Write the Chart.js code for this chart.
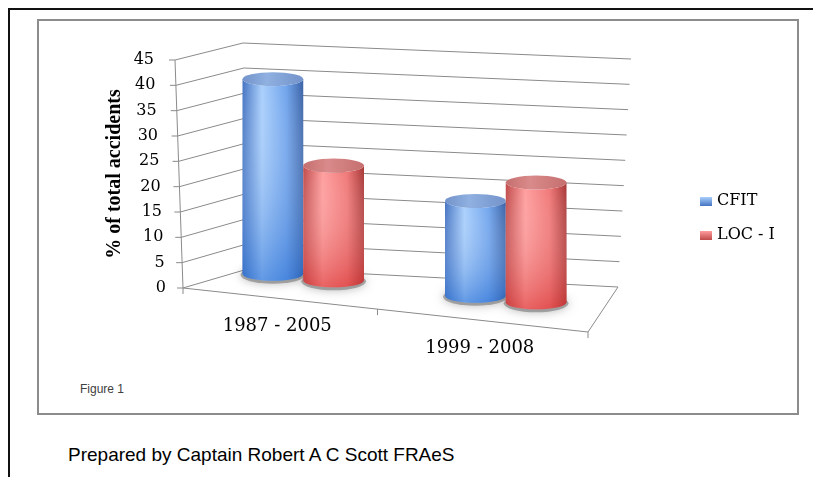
<!DOCTYPE html>
<html>
<head>
<meta charset="utf-8">
<script src="https://cdn.jsdelivr.net/npm/chart.js@4"></script>
<style>
  body { margin: 0; background: #fff; width: 813px; height: 477px; overflow: hidden; position: relative; }
  .outer-top { position: absolute; left: 8px; top: 8px; width: 805px; height: 2px; background: #111; }
  .outer-left { position: absolute; left: 8px; top: 8px; width: 2px; height: 469px; background: #111; }
  .frame { position: absolute; left: 37px; top: 19px; width: 758px; height: 392px; border: 2px solid #8c8c8c; }
  .fig { position: absolute; left: 80px; top: 383px; font: 12px/12px "Liberation Sans", Arial, sans-serif; color: #404040; }
  .credit { position: absolute; left: 68px; top: 445px; font: 19px/19px "Liberation Sans", Arial, sans-serif; color: #000; }
  #chart { position: absolute; left: 0; top: 0; }
</style>
</head>
<body>
<div class="outer-top"></div>
<div class="outer-left"></div>
<div class="frame"></div>
<div class="fig">Figure 1</div>
<div class="credit">Prepared by Captain Robert A C Scott FRAeS</div>
<canvas id="chart" width="813" height="477"></canvas>
<script>
const periods = ['1987 - 2005', '1999 - 2008'];
const cfit = [39, 19];
const locI = [23, 24];
const yTicks = [0, 45, 5]; // min, max, step
const yTitle = '% of total accidents';

const palettes = [
  { edgeL: '#4473c2', light: '#a9cffc', mid: '#6fa3ec', edgeR: '#3a62a6', bottom: 'rgba(40,110,210,0.55)', cap: '#7393cb', capLight: '#8fb0e0' },
  { edgeL: '#c04a4a', light: '#ff9d9d', mid: '#f07676', edgeR: '#a83636', bottom: 'rgba(215,50,50,0.55)', cap: '#c66f6f', capLight: '#d98a8a' }
];

const gridColor = '#8a8a8a';
const serif = '"DejaVu Serif", serif';

function box3d(chart) {
  const ctx = chart.ctx;
  const ca = chart.chartArea;
  const ys = chart.scales.y;
  const xs = chart.scales.x;
  const h = ca.bottom - ca.top;
  const frac = v => (ca.bottom - ys.getPixelForValue(v)) / h;
  const front = v => ({ x: ca.left - 8 * frac(v), y: ys.getPixelForValue(v) });
  const backL = v => ({ x: ca.left + 68 - 8 * frac(v), y: ca.bottom - 20 - 225 * frac(v) });
  const backR = v => ({ x: ca.right + 30 + 13 * frac(v), y: ys.getPixelForValue(v) - 1 });
  const floorY = x => ca.bottom + 44 * (x - ca.left) / (ca.right - ca.left);
  return { ctx, ca, ys, xs, frac, front, backL, backR, floorY };
}

const cylinderPlugin = {
  id: 'cylinders',
  beforeDatasetsDraw(chart) {
    const g = box3d(chart);
    const { ctx, ca, ys, xs, front, backL, backR, floorY } = g;
    ctx.save();
    ctx.strokeStyle = gridColor;
    ctx.lineWidth = 1;

    // walls
    ys.ticks.forEach(t => {
      const f = front(t.value), bl = backL(t.value), br = backR(t.value);
      ctx.beginPath();
      ctx.moveTo(f.x, f.y);
      ctx.lineTo(bl.x, bl.y);
      ctx.lineTo(br.x, br.y);
      ctx.stroke();
      // tick mark
      ctx.beginPath();
      ctx.moveTo(f.x, f.y);
      ctx.lineTo(f.x - 6, f.y);
      ctx.stroke();
    });

    // front axis
    const f0 = front(ys.min), f1 = front(ys.max);
    ctx.beginPath();
    ctx.moveTo(f1.x, f1.y);
    ctx.lineTo(f0.x, f0.y);
    ctx.stroke();

    // floor front and right edges
    const br0 = backR(ys.min);
    ctx.beginPath();
    ctx.moveTo(ca.left, ca.bottom);
    ctx.lineTo(ca.right, floorY(ca.right));
    ctx.lineTo(br0.x, br0.y);
    ctx.stroke();

    // category ticks
    const mid = (xs.getPixelForValue(0) + xs.getPixelForValue(1)) / 2 - 8;
    [ca.left, mid, ca.right].forEach(x => {
      ctx.beginPath();
      ctx.moveTo(x, floorY(x));
      ctx.lineTo(x, floorY(x) + 6);
      ctx.stroke();
    });

    // y tick labels
    ctx.fillStyle = '#000';
    ctx.font = '16px ' + serif;
    ctx.textAlign = 'right';
    ctx.textBaseline = 'middle';
    ys.ticks.forEach(t => {
      const f = front(t.value);
      ctx.fillText(String(t.value), f.x - 17 - 4 * g.frac(t.value), f.y);
    });

    // y title
    ctx.save();
    ctx.translate(115, (ca.top + ca.bottom) / 2);
    ctx.rotate(-Math.PI / 2);
    ctx.textAlign = 'center';
    ctx.font = 'bold 20px "Liberation Serif", serif';
    ctx.fillText(yTitle, 0, 0);
    ctx.restore();

    // category labels
    ctx.font = '18px ' + serif;
    ctx.textAlign = 'center';
    chart.data.labels.forEach((lab, i) => {
      const x = xs.getPixelForValue(i) - 7;
      ctx.fillText(lab, x, floorY(x) + 28);
    });

    // cylinders
    const metas = chart.data.datasets.map((d, i) => chart.getDatasetMeta(i));
    chart.data.labels.forEach((lab, i) => {
      metas.forEach((meta, di) => {
        const el = meta.data[i];
        const p = el.getProps(['x', 'y', 'base', 'width'], true);
        const cx = p.x + 19;
        const hw = p.width / 2;
        const base = floorY(cx) - 24;
        const top = base - (p.base - p.y) * 0.985;
        drawCylinder(ctx, cx, hw, base, top, 7, palettes[di]);
      });
    });

    // legend
    chart.data.datasets.forEach((d, di) => {
      const y = 201 + di * 34;
      const pal = palettes[di];
      const lg = ctx.createLinearGradient(0, y - 4, 0, y + 5);
      lg.addColorStop(0, pal.light);
      lg.addColorStop(1, pal.edgeL);
      ctx.fillStyle = lg;
      ctx.fillRect(700, y - 4, 12, 9);
      ctx.fillStyle = '#000';
      ctx.font = '16px ' + serif;
      ctx.textAlign = 'left';
      ctx.fillText(d.label, 717, y);
    });

    ctx.restore();
    return false;
  }
};

function drawCylinder(ctx, cx, hw, base, top, ry, pal) {
  // shadow under the base
  ctx.save();
  ctx.shadowColor = 'rgba(0,0,0,0.45)';
  ctx.shadowBlur = 10;
  ctx.fillStyle = 'rgba(120,120,120,0.6)';
  ctx.beginPath();
  ctx.ellipse(cx, base + 1, hw + 2, ry + 2, 0, 0, Math.PI * 2);
  ctx.fill();
  ctx.restore();

  // body
  const body = () => {
    ctx.beginPath();
    ctx.moveTo(cx - hw, top);
    ctx.lineTo(cx - hw, base);
    ctx.ellipse(cx, base, hw, ry, 0, Math.PI, 0, true);
    ctx.lineTo(cx + hw, top);
    ctx.ellipse(cx, top, hw, ry, 0, 0, Math.PI, false);
    ctx.closePath();
  };
  const hg = ctx.createLinearGradient(cx - hw, 0, cx + hw, 0);
  hg.addColorStop(0, pal.edgeL);
  hg.addColorStop(0.32, pal.light);
  hg.addColorStop(0.72, pal.mid);
  hg.addColorStop(1, pal.edgeR);
  body();
  ctx.fillStyle = hg;
  ctx.fill();
  const vg = ctx.createLinearGradient(0, top, 0, base + ry);
  vg.addColorStop(0, 'rgba(255,255,255,0)');
  vg.addColorStop(1, pal.bottom);
  body();
  ctx.fillStyle = vg;
  ctx.fill();

  // top cap
  const cg = ctx.createLinearGradient(cx - hw, 0, cx + hw, 0);
  cg.addColorStop(0, pal.cap);
  cg.addColorStop(0.4, pal.capLight);
  cg.addColorStop(1, pal.cap);
  ctx.fillStyle = cg;
  ctx.beginPath();
  ctx.ellipse(cx, top, hw, ry, 0, 0, Math.PI * 2);
  ctx.fill();
}

new Chart(document.getElementById('chart'), {
  type: 'bar',
  data: {
    labels: periods,
    datasets: [
      { label: 'CFIT', data: cfit, backgroundColor: '#5b8fe0' },
      { label: 'LOC - I', data: locI, backgroundColor: '#e05b5b' }
    ]
  },
  options: {
    responsive: false,
    animation: false,
    devicePixelRatio: 1,
    datasets: { bar: { categoryPercentage: 0.6, barPercentage: 1.0 } },
    layout: { padding: { left: 183, right: 225, top: 60, bottom: 189 } },
    scales: {
      x: { display: false },
      y: { display: false, min: yTicks[0], max: yTicks[1], ticks: { stepSize: yTicks[2] } }
    },
    plugins: { legend: { display: false }, tooltip: { enabled: false } }
  },
  plugins: [cylinderPlugin]
});
</script>
</body>
</html>
